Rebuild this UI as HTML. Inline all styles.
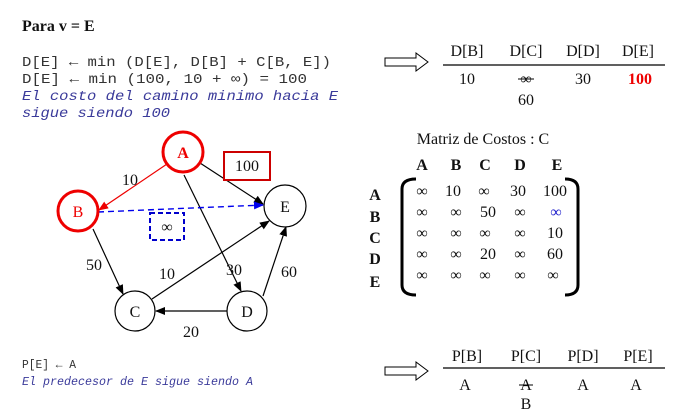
<!DOCTYPE html>
<html><head><meta charset="utf-8"><style>
html,body{margin:0;padding:0;background:#fff;}
svg{display:block;}
.m{font-family:"Liberation Mono",monospace;font-size:14px;fill:#333;}
.i{font-family:"Liberation Mono",monospace;font-size:14px;font-style:italic;fill:#3a3a9a;}
.s{font-family:"Liberation Serif",serif;font-size:16px;fill:#111;}
.b{font-family:"Liberation Serif",serif;font-size:16px;font-weight:bold;fill:#111;}
</style></head><body>
<svg width="677" height="413" viewBox="0 0 677 413" xmlns="http://www.w3.org/2000/svg">
<defs>
<marker id="ak" markerWidth="10" markerHeight="8" refX="9" refY="4" orient="auto" markerUnits="userSpaceOnUse"><path d="M0,0 L10,4 L0,8 z" fill="#000"/></marker>
<marker id="ar" markerWidth="10" markerHeight="8" refX="9" refY="4" orient="auto" markerUnits="userSpaceOnUse"><path d="M0,0 L10,4 L0,8 z" fill="#e00"/></marker>
<marker id="ab" markerWidth="10" markerHeight="8" refX="9" refY="4" orient="auto" markerUnits="userSpaceOnUse"><path d="M0,0 L10,4 L0,8 z" fill="#00e"/></marker>
</defs>
<text x="22" y="31" class="b" font-size="15">Para v = E</text>
<text x="22" y="66" class="m" textLength="309" lengthAdjust="spacingAndGlyphs">D[E] ← min (D[E], D[B] + C[B, E])</text>
<text x="22" y="83" class="m" textLength="285" lengthAdjust="spacingAndGlyphs">D[E] ← min (100, 10 + ∞) = 100</text>
<text x="22" y="100" class="i" textLength="316" lengthAdjust="spacingAndGlyphs">El costo del camino minimo hacia E</text>
<text x="22" y="117" class="i" textLength="148" lengthAdjust="spacingAndGlyphs">sigue siendo 100</text>

<!-- edges -->
<line x1="167" y1="164" x2="99" y2="210" stroke="#e00" stroke-width="1.2" marker-end="url(#ar)"/>
<line x1="200" y1="163" x2="263" y2="204" stroke="#000" stroke-width="1.2" marker-end="url(#ak)"/>
<line x1="184" y1="175" x2="241" y2="291" stroke="#000" stroke-width="1.2" marker-end="url(#ak)"/>
<line x1="98" y1="212" x2="263" y2="205" stroke="#00e" stroke-width="1.4" stroke-dasharray="6,4" marker-end="url(#ab)"/>
<line x1="93" y1="229" x2="123" y2="294" stroke="#000" stroke-width="1.2" marker-end="url(#ak)"/>
<line x1="152" y1="299" x2="269" y2="221" stroke="#000" stroke-width="1.2" marker-end="url(#ak)"/>
<line x1="263" y1="296" x2="286" y2="227" stroke="#000" stroke-width="1.2" marker-end="url(#ak)"/>
<line x1="227" y1="311" x2="156" y2="311" stroke="#000" stroke-width="1.2" marker-end="url(#ak)"/>
<!-- nodes -->
<circle cx="183" cy="152" r="20" fill="#fff" stroke="#e00" stroke-width="3"/>
<text x="183" y="158" text-anchor="middle" class="b" style="fill:#e00">A</text>
<circle cx="78" cy="211" r="20" fill="#fff" stroke="#e00" stroke-width="3"/>
<text x="78" y="217" text-anchor="middle" class="s" style="fill:#e00">B</text>
<circle cx="285" cy="206" r="21" fill="#fff" stroke="#000" stroke-width="1.2"/>
<text x="285" y="212" text-anchor="middle" class="s">E</text>
<circle cx="135" cy="311" r="20" fill="#fff" stroke="#000" stroke-width="1.2"/>
<text x="135" y="317" text-anchor="middle" class="s">C</text>
<circle cx="247" cy="311" r="20" fill="#fff" stroke="#000" stroke-width="1.2"/>
<text x="247" y="317" text-anchor="middle" class="s">D</text>
<rect x="224" y="152" width="46" height="28" fill="#fff" stroke="#c00" stroke-width="2"/>
<text x="247" y="171" text-anchor="middle" class="s" font-size="15">100</text>
<rect x="150" y="213" width="34" height="27" fill="none" stroke="#00c" stroke-width="2" stroke-dasharray="5,3"/>
<text x="167" y="232" text-anchor="middle" class="s" font-size="15">∞</text>
<text x="130" y="185" text-anchor="middle" class="s" font-size="15">10</text>
<text x="94" y="270" text-anchor="middle" class="s" font-size="15">50</text>
<text x="167" y="279" text-anchor="middle" class="s" font-size="15">10</text>
<text x="234" y="275" text-anchor="middle" class="s" font-size="15">30</text>
<text x="289" y="277" text-anchor="middle" class="s" font-size="15">60</text>
<text x="191" y="337" text-anchor="middle" class="s" font-size="15">20</text>

<!-- top table -->
<path d="M385,58 H416 V53 L428,62 L416,71 V66 H385 Z" fill="#fff" stroke="#000" stroke-width="1"/>
<line x1="443" y1="65" x2="665" y2="65" stroke="#000" stroke-width="1.3"/>
<text x="467" y="56" text-anchor="middle" class="s">D[B]</text>
<text x="526" y="56" text-anchor="middle" class="s">D[C]</text>
<text x="583" y="56" text-anchor="middle" class="s">D[D]</text>
<text x="638" y="56" text-anchor="middle" class="s">D[E]</text>
<text x="467" y="84" text-anchor="middle" class="s">10</text>
<text x="526" y="84" text-anchor="middle" class="s">∞</text>
<line x1="518" y1="79" x2="534" y2="79" stroke="#000" stroke-width="1"/>
<text x="583" y="84" text-anchor="middle" class="s">30</text>
<text x="640" y="84" text-anchor="middle" class="b" style="fill:#e00">100</text>
<text x="526" y="105" text-anchor="middle" class="s">60</text>

<!-- matrix -->
<text x="483" y="144" text-anchor="middle" class="s">Matriz de Costos : C</text>
<g class="b" text-anchor="middle" font-size="15">
<text x="422" y="170">A</text><text x="456" y="170">B</text><text x="485" y="170">C</text><text x="520" y="170">D</text><text x="557" y="170">E</text>
<text x="375" y="200">A</text><text x="375" y="222">B</text><text x="375" y="243">C</text><text x="375" y="264">D</text><text x="375" y="287">E</text>
</g>
<path d="M416,179 Q402,179 402,189 V285 Q402,295 416,295" fill="none" stroke="#000" stroke-width="3"/>
<path d="M565,179 Q578,179 578,189 V285 Q578,295 565,295" fill="none" stroke="#000" stroke-width="3"/>
<g class="s" text-anchor="middle" font-size="15">
<text x="422" y="196">∞</text><text x="453" y="196">10</text><text x="484" y="196">∞</text><text x="518" y="196">30</text><text x="555" y="196">100</text>
<text x="422" y="217">∞</text><text x="456" y="217">∞</text><text x="488" y="217">50</text><text x="520" y="217">∞</text><text x="556" y="217" style="fill:#22c">∞</text>
<text x="422" y="238">∞</text><text x="456" y="238">∞</text><text x="485" y="238">∞</text><text x="520" y="238">∞</text><text x="555" y="238">10</text>
<text x="422" y="259">∞</text><text x="456" y="259">∞</text><text x="488" y="259">20</text><text x="520" y="259">∞</text><text x="555" y="259">60</text>
<text x="422" y="280">∞</text><text x="456" y="280">∞</text><text x="485" y="280">∞</text><text x="520" y="280">∞</text><text x="553" y="280">∞</text>
</g>

<!-- bottom -->
<text x="22" y="368" class="m" font-size="12" style="font-size:12px" textLength="54" lengthAdjust="spacingAndGlyphs">P[E] ← A</text>
<text x="22" y="385" class="i" style="font-size:12px" textLength="231" lengthAdjust="spacingAndGlyphs">El predecesor de E sigue siendo A</text>
<path d="M385,367 H416 V362 L428,371 L416,380 V375 H385 Z" fill="#fff" stroke="#000" stroke-width="1"/>
<line x1="443" y1="368" x2="665" y2="368" stroke="#000" stroke-width="1.3"/>
<text x="467" y="361" text-anchor="middle" class="s">P[B]</text>
<text x="526" y="361" text-anchor="middle" class="s">P[C]</text>
<text x="583" y="361" text-anchor="middle" class="s">P[D]</text>
<text x="638" y="361" text-anchor="middle" class="s">P[E]</text>
<text x="465" y="390" text-anchor="middle" class="s">A</text>
<text x="526" y="390" text-anchor="middle" class="s">A</text>
<line x1="519" y1="385" x2="533" y2="385" stroke="#000" stroke-width="1"/>
<text x="583" y="390" text-anchor="middle" class="s">A</text>
<text x="636" y="390" text-anchor="middle" class="s">A</text>
<text x="526" y="409" text-anchor="middle" class="s">B</text>
</svg>
</body></html>
